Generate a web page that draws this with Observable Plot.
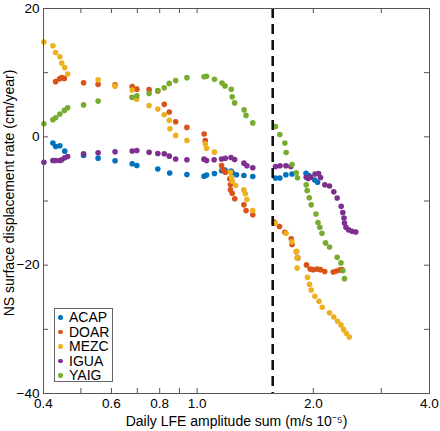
<!DOCTYPE html>
<html>
<head>
<meta charset="utf-8">
<script src="https://cdn.jsdelivr.net/npm/d3@7"></script>
<script src="https://cdn.jsdelivr.net/npm/@observablehq/plot@0.6"></script>
<style>
  html, body { margin: 0; padding: 0; background: #fff; }
  #wrap { position: relative; width: 440px; height: 431px; font-family: "Liberation Sans", Arial, Helvetica, sans-serif; }
  #wrap svg { position: absolute; left: 0; top: 0; }
  #legend { position: absolute; left: 54px; top: 308px; width: 57px; height: 72px; border: 1px solid #666; background: #fff; }
  .row { position: absolute; left: 0; width: 57px; height: 14.5px; line-height: 14.5px; font-size: 14px; color: #000; }
  .row .dot { position: absolute; left: 3px; top: 5px; width: 4.6px; height: 4.6px; border-radius: 50%; }
  .row .lab { position: absolute; left: 14px; top: 0; }
</style>
</head>
<body>
<div id="wrap"><div id="legend"></div></div>
<script>
// ---- data ----
const stations = ["ACAP", "DOAR", "MEZC", "IGUA", "YAIG"];
const stationColors = ["#0072BD", "#D95319", "#EDB120", "#7E2F8E", "#77AC30"];

const acapX = [0.423,0.430,0.441,0.454,0.508,0.554,0.613,0.679,0.698,0.791,0.849,0.941,1.042,1.058,1.109,1.158,1.181,1.224,1.233,1.265,1.322,1.394,1.596,1.638,1.698,1.762,1.915,1.948,2.018,2.051];
const acapY = [-0.98,-1.50,-1.39,-2.23,-2.90,-3.32,-3.73,-4.20,-4.46,-5.01,-5.63,-5.87,-6.15,-5.95,-5.71,-5.29,-5.17,-5.32,-5.60,-5.92,-6.02,-6.18,-6.41,-6.41,-5.92,-5.79,-5.67,-6.02,-6.73,-7.07];

const doarX = [0.430,0.440,0.446,0.453,0.508,0.554,0.613,0.679,0.698,0.751,0.791,0.822,0.847,0.880,0.941,1.043,1.050,1.157,1.168,1.183,1.215,1.220,1.220,1.233,1.252,1.322,1.339,1.394,1.583,1.635,1.688,1.753,1.762,1.809,1.823,1.920,1.963,1.999,2.047,2.088,2.141,2.253,2.296,2.345,2.373];
const doarY = [8.60,9.04,9.22,9.11,8.44,8.18,8.10,7.82,7.43,7.35,7.16,5.06,3.86,2.36,1.47,0.45,-0.56,-4.46,-5.14,-5.51,-6.54,-7.43,-8.26,-8.79,-9.66,-10.60,-11.49,-12.16,-13.28,-13.98,-14.87,-15.90,-16.79,-17.92,-18.87,-19.96,-20.59,-20.70,-20.62,-20.70,-20.98,-21.06,-20.90,-20.74,-20.70];

const mezcX = [0.401,0.423,0.430,0.441,0.446,0.454,0.462,0.554,0.613,0.679,0.697,0.751,0.791,0.822,0.847,0.850,0.880,0.941,1.050,1.058,1.109,1.220,1.227,1.233,1.258,1.321,1.333,1.346,1.394,1.593,1.700,1.760,1.809,1.814,1.816,1.932,1.955,1.975,2.018,2.069,2.110,2.203,2.260,2.311,2.359,2.395,2.435,2.479];
const mezcY = [14.78,14.19,13.14,12.47,11.50,10.79,9.79,8.88,7.90,7.29,5.87,4.87,4.32,3.45,2.56,1.26,0.22,-0.56,-1.08,-1.76,-2.39,-5.51,-6.29,-6.91,-7.59,-8.26,-8.88,-9.77,-11.49,-13.52,-15.03,-16.36,-17.84,-18.87,-20.46,-21.90,-22.99,-23.86,-24.86,-25.64,-26.55,-27.41,-28.08,-28.73,-29.31,-30.01,-30.61,-31.21];

const iguaX = [0.401,0.423,0.430,0.441,0.446,0.454,0.462,0.508,0.554,0.613,0.679,0.698,0.751,0.791,0.822,0.847,0.880,0.941,1.042,1.058,1.107,1.157,1.183,1.224,1.251,1.322,1.346,1.394,1.596,1.640,1.698,1.749,1.917,1.940,1.969,2.021,2.063,2.088,2.142,2.203,2.260,2.306,2.362,2.385,2.402,2.409,2.430,2.470,2.520,2.577];
const iguaY = [-3.95,-3.68,-3.68,-3.68,-3.57,-3.26,-3.06,-2.64,-2.48,-2.33,-2.20,-2.12,-2.40,-2.59,-2.64,-3.01,-3.45,-3.56,-3.48,-3.68,-3.57,-3.45,-3.34,-3.22,-3.53,-4.10,-4.50,-4.82,-4.62,-4.51,-4.50,-4.62,-6.29,-6.49,-6.29,-5.79,-5.71,-6.34,-7.46,-7.66,-8.57,-9.54,-10.83,-11.80,-12.66,-13.44,-14.09,-14.50,-14.72,-14.84];

const yaigX = [0.401,0.423,0.430,0.441,0.453,0.462,0.508,0.554,0.678,0.698,0.751,0.791,0.822,0.847,0.880,0.941,1.042,1.058,1.109,1.160,1.181,1.226,1.233,1.251,1.324,1.339,1.394,1.596,1.638,1.688,1.701,1.762,1.806,1.820,1.917,1.928,1.952,1.975,2.032,2.057,2.079,2.106,2.151,2.203,2.306,2.359,2.386,2.409];
const yaigY = [2.04,2.67,2.98,3.54,4.12,4.54,4.98,5.57,6.15,6.41,6.77,7.20,7.66,8.33,8.76,9.22,9.36,9.43,8.96,8.38,7.94,7.40,6.23,5.29,4.20,3.34,2.17,1.62,0.37,-0.98,-2.43,-4.31,-5.60,-6.38,-7.48,-8.37,-9.51,-10.60,-12.03,-13.36,-14.09,-15.03,-16.53,-17.18,-18.78,-19.65,-20.85,-22.10];

const lfeThreshold = 1.57;
const xTicks = [0.4, 0.5, 0.6, 0.7, 0.8, 0.9, 1.0, 2.0, 3.0, 4.0];
const xTickLabels = [0.4, 0.6, 0.8, 1.0, 2.0, 4.0];
const yTicks = [-40, -30, -20, -10, 0, 10, 20];
const yTickLabels = [-40, -20, 0, 20];
const xTitle = "Daily LFE amplitude sum (m/s 10\u207B\u2075)";
const yTitle = "NS surface displacement rate (cm/year)";

// ---- build table ----
const seriesX = [acapX, doarX, mezcX, iguaX, yaigX];
const seriesY = [acapY, doarY, mezcY, iguaY, yaigY];
const rows = stations.flatMap((s, i) => seriesX[i].map((x, j) => ({station: s, x, y: seriesY[i][j]})));

const font = '"Liberation Sans", Arial, Helvetica, sans-serif';
const axisColor = "#555";

const chart = Plot.plot({
  width: 440,
  height: 431,
  marginLeft: 43,
  marginRight: 11,
  marginTop: 8,
  marginBottom: 38,
  style: {fontFamily: font, fontSize: "13.5px", background: "#fff", color: "#000", overflow: "visible"},
  x: {type: "log", domain: [0.4, 4.0]},
  y: {domain: [-40, 20]},
  color: {domain: stations, range: stationColors},
  marks: [
    Plot.dot(rows, {x: "x", y: "y", fill: "station", r: 2.8, stroke: "none"}),
    Plot.ruleX([lfeThreshold], {x: d => d, stroke: "#111", strokeWidth: 2.6, strokeDasharray: "10,6"}),
    Plot.frame({stroke: axisColor, strokeWidth: 1}),
    Plot.ruleX(xTicks, {x: d => d, insetTop: 380, stroke: axisColor}),
    Plot.ruleX(xTicks, {x: d => d, insetBottom: 380, stroke: axisColor}),
    Plot.ruleY(yTicks, {y: d => d, insetRight: 381, stroke: axisColor}),
    Plot.ruleY(yTicks, {y: d => d, insetLeft: 381, stroke: axisColor}),
    Plot.axisX({ticks: xTickLabels, tickSize: 0, tickPadding: 5, tickFormat: d3.format(".1f"), label: null, fontSize: 13.5}),
    Plot.axisY({ticks: yTickLabels, tickSize: 0, tickPadding: 4, label: null, fontSize: 13.5}),
    Plot.text([xTitle], {text: d => d, frameAnchor: "bottom", dy: 32, lineAnchor: "bottom", textAnchor: "middle", fontSize: 14, fill: "#000"}),
    Plot.text([yTitle], {text: d => d, frameAnchor: "left", dx: -30, dy: -8, rotate: -90, lineAnchor: "bottom", textAnchor: "middle", fontSize: 14, fill: "#000"})
  ]
});

const wrap = document.getElementById("wrap");
wrap.insertBefore(chart, wrap.firstChild);

// ---- legend ----
const legend = document.getElementById("legend");
stations.forEach((s, i) => {
  const row = document.createElement("div");
  row.className = "row";
  row.style.top = (8.3 + 14.5 * i - 7.25) + "px";
  const dot = document.createElement("span");
  dot.className = "dot";
  dot.style.background = stationColors[i];
  const lab = document.createElement("span");
  lab.className = "lab";
  lab.textContent = s;
  row.appendChild(dot);
  row.appendChild(lab);
  legend.appendChild(row);
});
</script>
</body>
</html>
